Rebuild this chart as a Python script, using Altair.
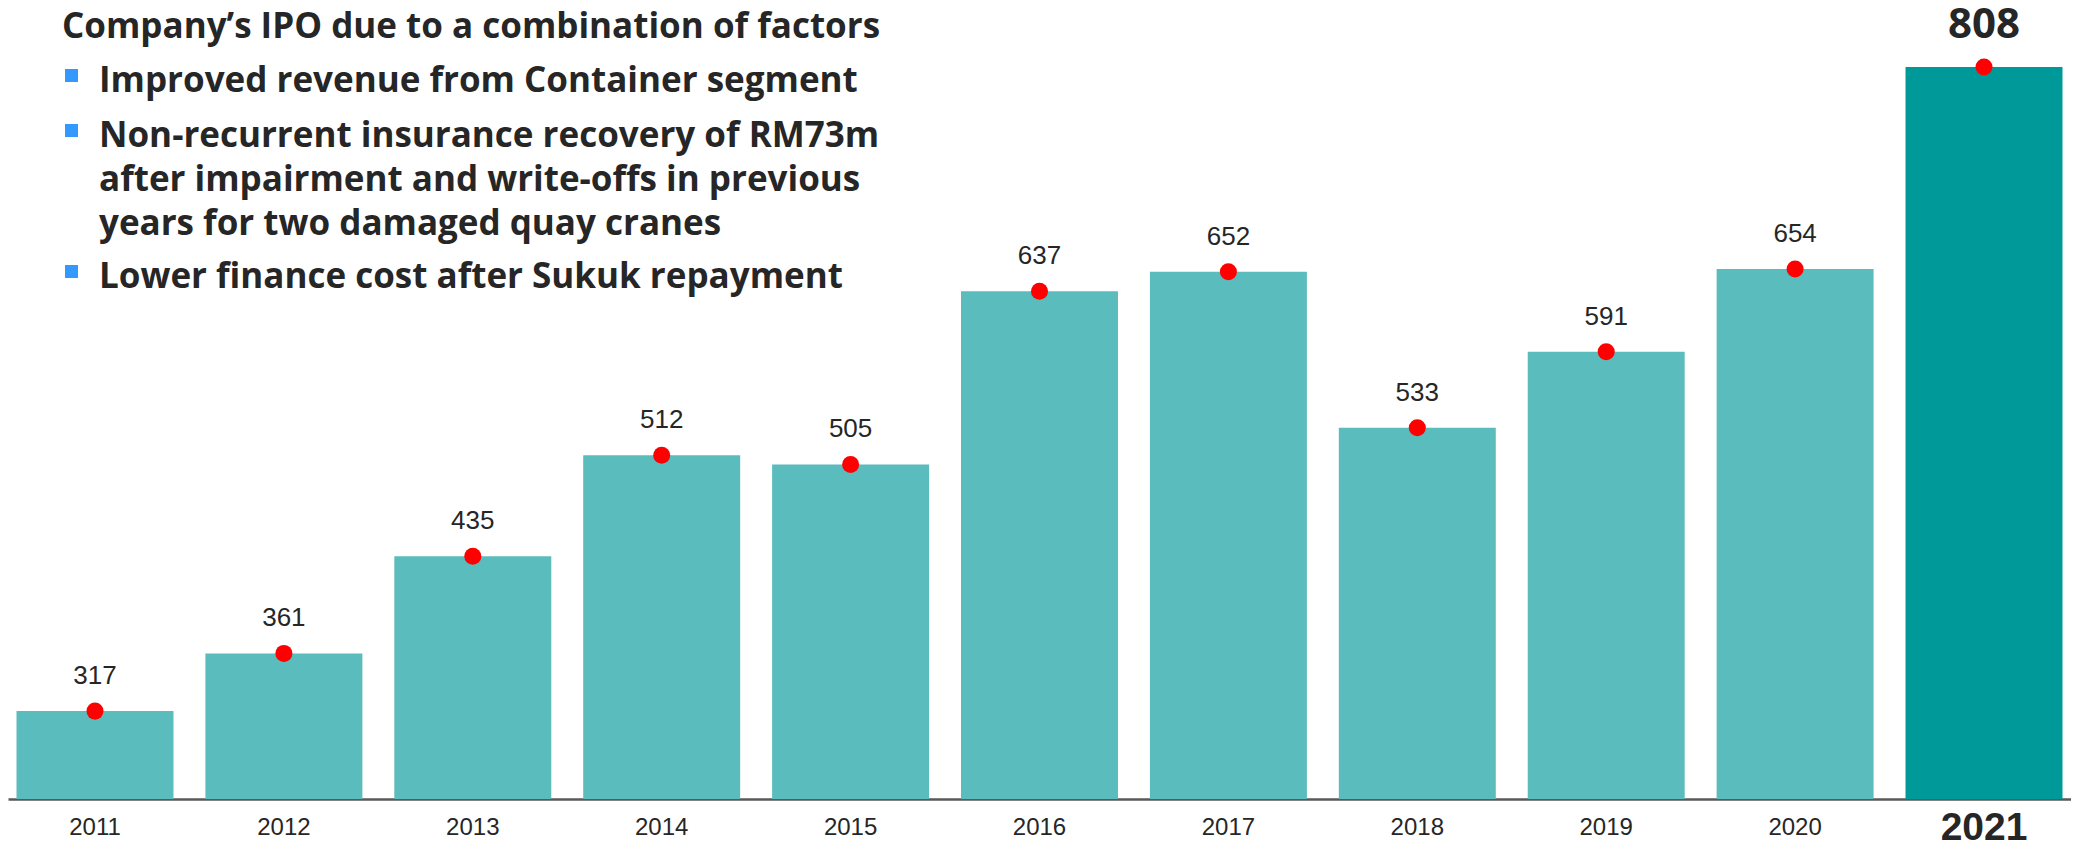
import altair as alt
import pandas as pd

years = ["2011", "2012", "2013", "2014", "2015", "2016", "2017", "2018", "2019", "2020", "2021"]
values = [317, 361, 435, 512, 505, 637, 652, 533, 591, 654, 808]
highlight_year = "2021"

heading = "Company\u2019s IPO due to a combination of factors"
bullets = [
    ["Improved revenue from Container segment"],
    ["Non-recurrent insurance recovery of RM73m",
     "after impairment and write-offs in previous",
     "years for two damaged quay cranes"],
    ["Lower finance cost after Sukuk repayment"],
]

df = pd.DataFrame({"year": years, "value": values})
df["hl"] = df["year"] == highlight_year

W, H = 2063, 791
BASE, TOP = 250, 853

x = alt.X("year:N", sort=years, title=None,
          scale=alt.Scale(paddingInner=0.169, paddingOuter=0.045),
          axis=alt.Axis(ticks=False, domainColor="#595959", domainWidth=2.5,
                        labelAngle=0, labelBaseline="middle", labelPadding=28,
                        labelFont="Liberation Sans", labelColor="#262626",
                        labelFontSize=alt.condition(f"datum.label == '{highlight_year}'", alt.value(39), alt.value(24)),
                        labelFontWeight=alt.condition(f"datum.label == '{highlight_year}'", alt.value("bold"), alt.value("normal")),
                        grid=False))
yscale = alt.Scale(domain=[BASE, TOP], zero=False, nice=False)
y = alt.Y("value:Q", scale=yscale, axis=None, title=None)

base = alt.Chart(df)

bars = base.mark_bar().encode(
    x=x, y=y, y2=alt.datum(BASE),
    color=alt.condition("datum.hl", alt.value("#009999"), alt.value("#5BBCBD")),
)
dots = base.mark_circle(size=290, opacity=1, color="#FF0000").encode(x=x, y=y)
labels = base.transform_filter("!datum.hl").mark_text(
    font="Liberation Sans", fontSize=26, color="#262626", baseline="alphabetic", dy=-27
).encode(x=x, y=y, text=alt.Text("value:Q"))
label_hl = base.transform_filter("datum.hl").mark_text(
    font="Open Sans", fontSize=42, fontWeight="bold", color="#262626", baseline="alphabetic", dy=-29
).encode(x=x, y=y, text=alt.Text("value:Q"))

layers = [bars, dots, labels, label_hl]

FONT = "Open Sans"
FS = 35
tx = lambda s, px, py: alt.Chart(pd.DataFrame({"t": [s]})).mark_text(
    font=FONT, fontSize=FS, fontWeight="bold", color="#262626", align="left", baseline="alphabetic"
).encode(x=alt.value(px), y=alt.value(py), text="t:N")

layers.append(tx(heading, 54, 30))
bullet_y = [84, 139, 280]
sub_step = 44
for b, by in zip(bullets, bullet_y):
    layers.append(alt.Chart(pd.DataFrame({"t": [""]})).mark_square(size=169, color="#3399FF", opacity=1).encode(
        x=alt.value(63.5), y=alt.value(by - 16.5)))
    for i, line in enumerate(b):
        layers.append(tx(line, 91, by + i * sub_step))

chart = alt.layer(*layers).properties(
    width=W, height=H,
    autosize=alt.AutoSizeParams(type="none"),
    padding={"left": 0, "top": 0, "right": 0, "bottom": 44},
).configure_view(stroke=None).configure_axis(grid=False)

chart.save("out.html", embed_options={"renderer": "svg", "actions": False})
